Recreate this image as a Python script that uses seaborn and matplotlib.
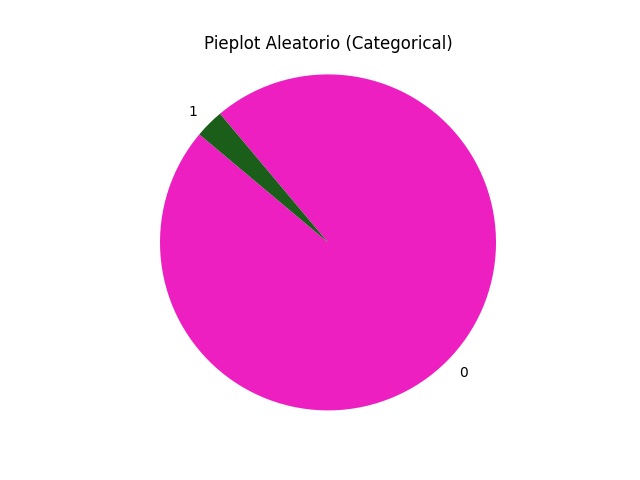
import matplotlib
matplotlib.use('Agg')
from matplotlib import pyplot as plt
import seaborn as sns

# categorical counts
categories = ['0', '1']
counts = [35, 1]
colors = ['#ED1FC1', '#1A5E1A']

f, ax = plt.subplots(figsize=(6.4, 4.8), dpi=100)
ax.pie(counts, labels=categories, colors=colors, startangle=140)
ax.axis('equal')
ax.set_title('Pieplot Aleatorio (Categorical)')
plt.savefig('out.png')
